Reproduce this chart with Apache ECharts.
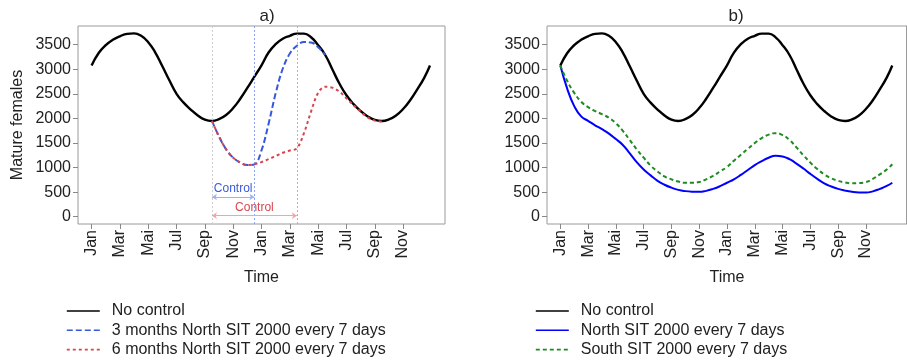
<!DOCTYPE html>
<html><head><meta charset="utf-8">
<script src="https://cdn.jsdelivr.net/npm/echarts@6/dist/echarts.min.js"></script>
<style>html,body{margin:0;padding:0;background:#fff}#c{width:907px;height:362px}</style>
</head><body><div id="c"></div>
<script>
// ---- data (months since January of year 1) ----
const months = [0,0.5,1,1.5,2,2.5,3,3.5,4,4.5,5,5.5,6,6.5,7,7.5,8,8.5,9,9.5,10,10.5,11,11.5,
  12,12.5,13,13.5,14,14.5,15,15.5,16,16.5,17,17.5,18,18.5,19,19.5,20,20.5,21,21.5,22,22.5,23,23.5,23.9];
const noControl = [3075,3330,3490,3600,3670,3720,3730,3680,3550,3340,3060,2770,2500,2320,2180,2060,1975,1948,1985,2070,2210,2400,2620,2850,
  3080,3340,3510,3620,3680,3725,3725,3650,3490,3290,3000,2710,2470,2290,2150,2040,1970,1948,1980,2060,2190,2370,2590,2830,3075];
const months3 = [8.5,9,9.5,10,10.5,11,11.5,12,12.5,13,13.5,14,14.5,15,15.5,16,16.5];
const north3m = [1948,1630,1370,1200,1100,1050,1065,1350,1890,2510,3010,3320,3480,3555,3545,3450,3290];
const months6 = [8.5,9,9.5,10,10.5,11,11.5,12,12.5,13,13.5,14,14.5,15,15.5,16,16.5,17,17.5,18,18.5,19,19.5,20,20.5];
const north6m = [1948,1630,1370,1200,1100,1050,1070,1110,1170,1235,1300,1345,1390,1700,2140,2520,2645,2625,2545,2410,2270,2140,2020,1955,1935];
const northSIT = [3075,2600,2250,2040,1950,1860,1780,1690,1580,1460,1290,1110,960,840,730,650,590,545,520,508,505,525,565,620,
  690,760,850,950,1050,1130,1200,1240,1225,1170,1080,980,870,770,680,615,565,530,505,492,490,515,565,625,690];
const southSIT = [3075,2760,2520,2340,2230,2150,2085,2010,1900,1745,1560,1370,1200,1040,920,820,760,715,690,690,705,760,830,920,
  1010,1140,1260,1380,1500,1600,1670,1700,1660,1560,1410,1250,1100,970,860,780,730,695,680,685,705,770,860,960,1066];
const controlStart = 8.5, control3End = 11.5, control6End = 14.5;
const tickMonths = [0,2,4,6,8,10,12,14,16,18,20,22];
const tickLabels = ['Jan','Mar','Mai','Jul','Sep','Nov','Jan','Mar','Mai','Jul','Sep','Nov'];
const yTicks = [0,500,1000,1500,2000,2500,3000,3500];
const arrowLevel3 = 400, arrowLevel6 = 20;

const FF = 'Liberation Sans, Arial, sans-serif';
const pairs = (xs, ys) => xs.map((x, i) => [x, ys[i]]);

function xAx(gi) {
  return {
    type: 'value', gridIndex: gi, min: -0.96, max: 24.96,
    name: 'Time', nameLocation: 'middle', nameGap: 46,
    nameTextStyle: {fontSize: 16, color: '#222', fontFamily: FF},
    axisLine: {show: false, onZero: false},
    axisTick: {show: true, customValues: tickMonths, length: 5, lineStyle: {color: '#888'}},
    axisLabel: {customValues: tickMonths, rotate: 90, margin: 6, fontSize: 16, color: '#222', fontFamily: FF,
      formatter: v => tickLabels[tickMonths.indexOf(v)]},
    splitLine: {show: false}
  };
}
function yAx(gi, name) {
  return {
    type: 'value', gridIndex: gi, min: -149, max: 3880,
    name: name, nameLocation: 'middle', nameGap: 52,
    nameTextStyle: {fontSize: 16, color: '#222', fontFamily: FF},
    axisLine: {show: false, onZero: false},
    axisTick: {show: true, customValues: yTicks, length: 5, lineStyle: {color: '#888'}},
    axisLabel: {customValues: yTicks, margin: 7, fontSize: 16, color: '#222', fontFamily: FF,
      formatter: v => String(v)},
    splitLine: {show: false}
  };
}

const legendBase = {
  orient: 'vertical', top: 303, padding: 0, height: 58, itemWidth: 33, itemHeight: 16, itemGap: 3.3,
  textStyle: {fontSize: 16, color: '#222', fontFamily: FF, padding: [0, 0, 0, 7]},
  lineStyle: {width: 1.6},
  itemStyle: {color: 'rgba(0,0,0,0)', borderWidth: 0, opacity: 0},
  selectedMode: false
};

const option = {
  animation: false,
  backgroundColor: '#fff',
  title: [
    {text: 'a)', left: 262, top: 3, textAlign: 'center', textStyle: {fontSize: 17, fontWeight: 'normal', color: '#222', fontFamily: FF}},
    {text: 'b)', left: 731, top: 3, textAlign: 'center', textStyle: {fontSize: 17, fontWeight: 'normal', color: '#222', fontFamily: FF}}
  ],
  grid: [
    {left: 78, top: 26, width: 367, height: 198, show: true, borderColor: '#9a9a9a', borderWidth: 1, backgroundColor: 'transparent'},
    {left: 547, top: 26, width: 368, height: 198, show: true, borderColor: '#9a9a9a', borderWidth: 1, backgroundColor: 'transparent'}
  ],
  graphic: [
    {type: 'line', shape: {x1: 906.5, y1: 26, x2: 906.5, y2: 224}, style: {stroke: '#9a9a9a', lineWidth: 1}, silent: true}
  ],
  xAxis: [xAx(0), xAx(1)],
  yAxis: [yAx(0, 'Mature females'), yAx(1, '')],
  legend: [
    Object.assign({}, legendBase, {left: 66, data: ['No control', '3 months North SIT 2000 every 7 days', '6 months North SIT 2000 every 7 days']}),
    Object.assign({}, legendBase, {left: 535, data: ['No control', 'North SIT 2000 every 7 days', 'South SIT 2000 every 7 days']})
  ],
  series: [
    {
      name: 'No control', type: 'line', xAxisIndex: 0, yAxisIndex: 0, symbol: 'none', smooth: true,
      data: pairs(months, noControl), lineStyle: {color: '#000', width: 2.4}, itemStyle: {color: '#000'}, z: 3,
      markLine: {silent: true, symbol: ['none', 'none'], animation: false, label: {show: false},
        lineStyle: {color: '#cfcfcf', type: [2, 2], width: 1},
        data: [{xAxis: controlStart}]}
    },
    {
      name: '3 months North SIT 2000 every 7 days', type: 'line', xAxisIndex: 0, yAxisIndex: 0, symbol: 'none', smooth: 0.4,
      data: pairs(months3, north3m), lineStyle: {color: '#3558dc', width: 2, type: [6, 3]}, itemStyle: {color: '#3558dc'}, z: 4,
      markLine: {silent: true, symbol: ['none', 'none'], animation: false,
        lineStyle: {color: '#8ea3ef', type: [2, 2], width: 1},
        label: {show: false},
        data: [
          {xAxis: control3End},
          [{coord: [controlStart, arrowLevel3], symbol: 'arrow', symbolSize: 5,
            lineStyle: {type: 'solid', color: '#9fb1f0'},
            label: {show: true, position: 'middle', formatter: 'Control', color: '#3a5bd8', fontSize: 12, fontFamily: FF, distance: 2}},
           {coord: [control3End, arrowLevel3], symbol: 'arrow', symbolSize: 5}]
        ]}
    },
    {
      name: '6 months North SIT 2000 every 7 days', type: 'line', xAxisIndex: 0, yAxisIndex: 0, symbol: 'none', smooth: 0.35,
      data: pairs(months6, north6m), lineStyle: {color: '#d9434d', width: 2, type: [3, 3]}, itemStyle: {color: '#d9434d'}, z: 5,
      markLine: {silent: true, symbol: ['none', 'none'], animation: false,
        lineStyle: {color: '#f29a9a', type: [2, 2], width: 1},
        label: {show: false},
        data: [
          {xAxis: control6End},
          [{coord: [controlStart, arrowLevel6], symbol: 'arrow', symbolSize: 5,
            lineStyle: {type: 'solid', color: '#f2a5a5'},
            label: {show: true, position: 'middle', formatter: 'Control', color: '#d6474f', fontSize: 12, fontFamily: FF, distance: 2}},
           {coord: [control6End, arrowLevel6], symbol: 'arrow', symbolSize: 5}]
        ]}
    },
    {
      name: 'No control', type: 'line', xAxisIndex: 1, yAxisIndex: 1, symbol: 'none', smooth: true,
      data: pairs(months, noControl), lineStyle: {color: '#000', width: 2.4}, itemStyle: {color: '#000'}, z: 3
    },
    {
      name: 'North SIT 2000 every 7 days', type: 'line', xAxisIndex: 1, yAxisIndex: 1, symbol: 'none', smooth: true,
      data: pairs(months, northSIT), lineStyle: {color: '#0000ff', width: 2}, itemStyle: {color: '#0000ff'}, z: 4
    },
    {
      name: 'South SIT 2000 every 7 days', type: 'line', xAxisIndex: 1, yAxisIndex: 1, symbol: 'none', smooth: true,
      data: pairs(months, southSIT), lineStyle: {color: '#1f8a1f', width: 2, type: [4, 3]}, itemStyle: {color: '#1f8a1f'}, z: 4
    }
  ]
};
const chart = echarts.init(document.getElementById('c'), null, {renderer: 'canvas'});
chart.setOption(option);
</script></body></html>
